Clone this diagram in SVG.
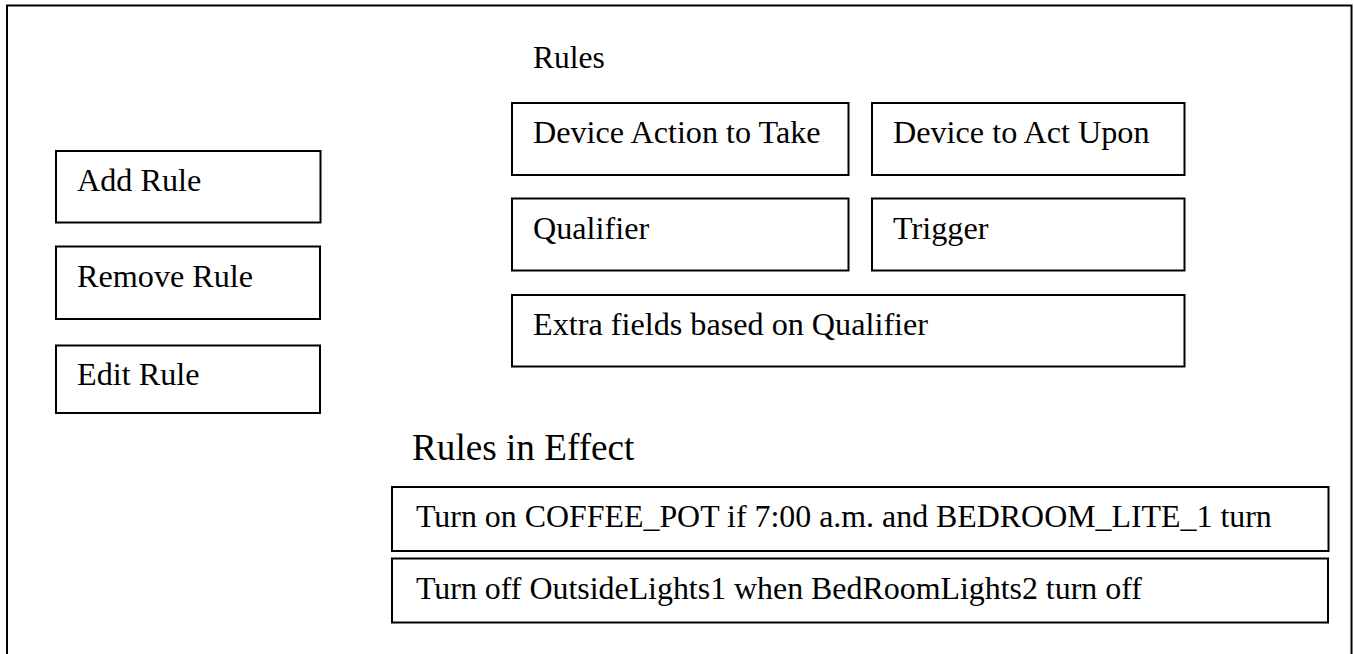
<svg xmlns="http://www.w3.org/2000/svg" width="1354" height="654" viewBox="0 0 1354 654">
<style>
.box{fill:#fff;stroke:#000;stroke-width:2}
.t{font-family:"Liberation Serif","Times New Roman",serif;font-size:32.2px;fill:#000}
.big{font-size:37.2px}
.row{font-size:31.9px}
</style>
<rect x="0" y="0" width="1354" height="654" fill="#fff"/>
<rect id="frame" x="7" y="5.5" width="1344.5" height="660" fill="none" stroke="#000" stroke-width="2"/>
<g id="title"><text class="t" x="533" y="68" style="font-size:31.5px">Rules</text></g>
<g id="add-rule"><rect class="box" x="56" y="151" width="264.5" height="71.5"/><text class="t" x="77" y="191">Add Rule</text></g>
<g id="remove-rule"><rect class="box" x="56" y="246.5" width="264" height="72.5"/><text class="t" x="77" y="287">Remove Rule</text></g>
<g id="edit-rule"><rect class="box" x="56" y="345.5" width="264" height="67.5"/><text class="t" x="77" y="385">Edit Rule</text></g>
<g id="device-action"><rect class="box" x="512" y="103" width="336.5" height="72"/><text class="t" x="533" y="143">Device Action to Take</text></g>
<g id="device-act-upon"><rect class="box" x="872" y="103" width="312.5" height="72"/><text class="t" x="893" y="143">Device to Act Upon</text></g>
<g id="qualifier"><rect class="box" x="512" y="198.5" width="336.5" height="72"/><text class="t" x="533" y="239">Qualifier</text></g>
<g id="trigger"><rect class="box" x="872" y="198.5" width="312.5" height="72"/><text class="t" x="893" y="239">Trigger</text></g>
<g id="extra-fields"><rect class="box" x="512" y="295" width="672.5" height="71.5"/><text class="t" x="533" y="335">Extra fields based on Qualifier</text></g>
<g id="rules-in-effect"><text class="t big" x="412" y="460">Rules in Effect</text></g>
<g id="rule-1"><rect class="box" x="392" y="487" width="936.5" height="64"/><text class="t row" x="416" y="527">Turn on COFFEE_POT if 7:00 a.m. and BEDROOM_LITE_1 turn</text></g>
<g id="rule-2"><rect class="box" x="392" y="558.5" width="936" height="64"/><text class="t row" x="416" y="599">Turn off OutsideLights1 when BedRoomLights2 turn off</text></g>
<g id="connectors"></g>
</svg>
